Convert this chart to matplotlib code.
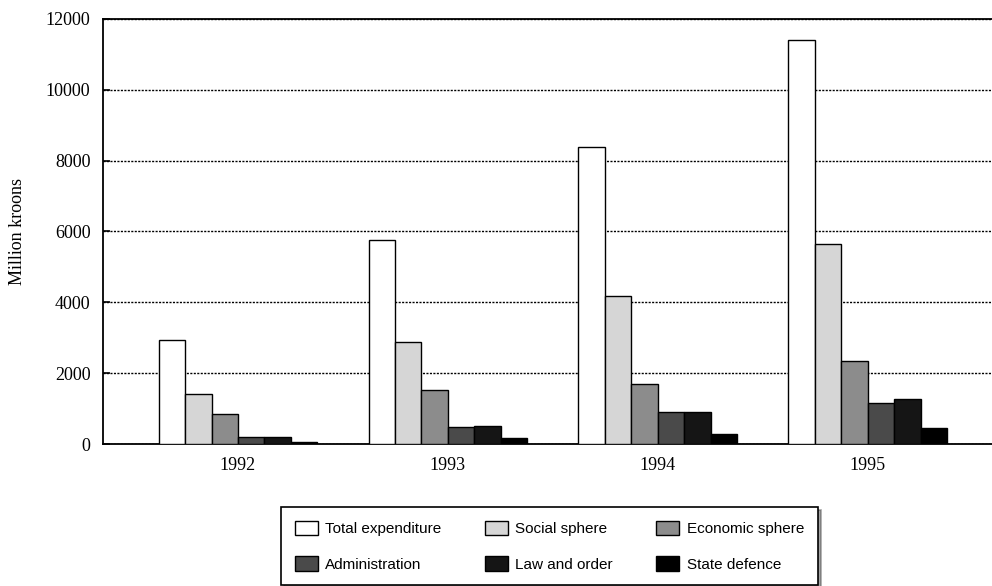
#!/usr/bin/env python3
"""
State budget expenditure by sphere, 1992-1995 (million kroons)
"""

import numpy as np
import matplotlib.pyplot as plt

years = ['1992', '1993', '1994', '1995']
series = ['Total expenditure', 'Social sphere', 'Economic sphere',
          'Administration', 'Law and order', 'State defence']

total = [2930, 5750, 8380, 11400]
social = [1410, 2880, 4180, 5650]
economic = [860, 1530, 1700, 2350]
administration = [200, 480, 900, 1160]
law_order = [200, 510, 900, 1270]
defence = [60, 170, 290, 450]

values = [total, social, economic, administration, law_order, defence]
colors = ['white', '#d6d6d6', '#8c8c8c', '#4a4a4a', '#151515', '#000000']

plt.rcParams['font.family'] = ['Liberation Serif', 'DejaVu Serif']

fig = plt.figure(figsize=(9.92, 5.86), dpi=100)
ax = fig.add_axes([0.1038, 0.2423, 0.907, 0.7253])

x = np.arange(len(years))
width = 0.126
bars = []
for i, (name, vals, col) in enumerate(zip(series, values, colors)):
    offs = (i - 2.5) * width
    b = ax.bar(x + offs, vals, width, color=col, edgecolor='black',
               linewidth=1.0, label=name, zorder=3)
    bars.append(b)

ax.set_xlim(-0.643, 3.643)
ax.set_ylim(0, 12000)
ax.set_yticks(np.arange(0, 12001, 2000))
ax.set_yticklabels([str(v) for v in range(0, 12001, 2000)], fontsize=13)
ax.set_xticks(x)
ax.set_xticklabels(years, fontsize=13)
ax.tick_params(axis='x', length=0, pad=9)
ax.tick_params(axis='y', direction='in', length=5, width=1.2, pad=9)
ax.yaxis.grid(True, linestyle=(0, (1.5, 1)), color='black', linewidth=1.0, zorder=0)
ax.set_axisbelow(True)
ax.set_ylabel('Million kroons', fontsize=13, labelpad=14)

for side in ['left', 'bottom', 'top']:
    ax.spines[side].set_linewidth(1.3)
ax.spines['right'].set_visible(False)

# legend is filled column by column, so reorder to get the row layout
order = [0, 3, 1, 4, 2, 5]
x0, x1 = 281 / 992, 818 / 992
ytop = 1 - 507 / 586
leg = fig.legend(handles=[bars[k] for k in order], labels=[series[k] for k in order],
                 ncol=3, loc='upper left', mode='expand',
                 bbox_to_anchor=(x0, ytop - 0.2, x1 - x0, 0.2),
                 frameon=True, fancybox=False, shadow=True,
                 edgecolor='black', framealpha=1,
                 prop={'family': 'Liberation Sans', 'size': 11},
                 handlelength=1.5, handleheight=1.1, handletextpad=0.5,
                 borderpad=0.9, labelspacing=1.3, borderaxespad=0)
leg.get_frame().set_linewidth(1.2)

fig.savefig('out.png', dpi=100)
